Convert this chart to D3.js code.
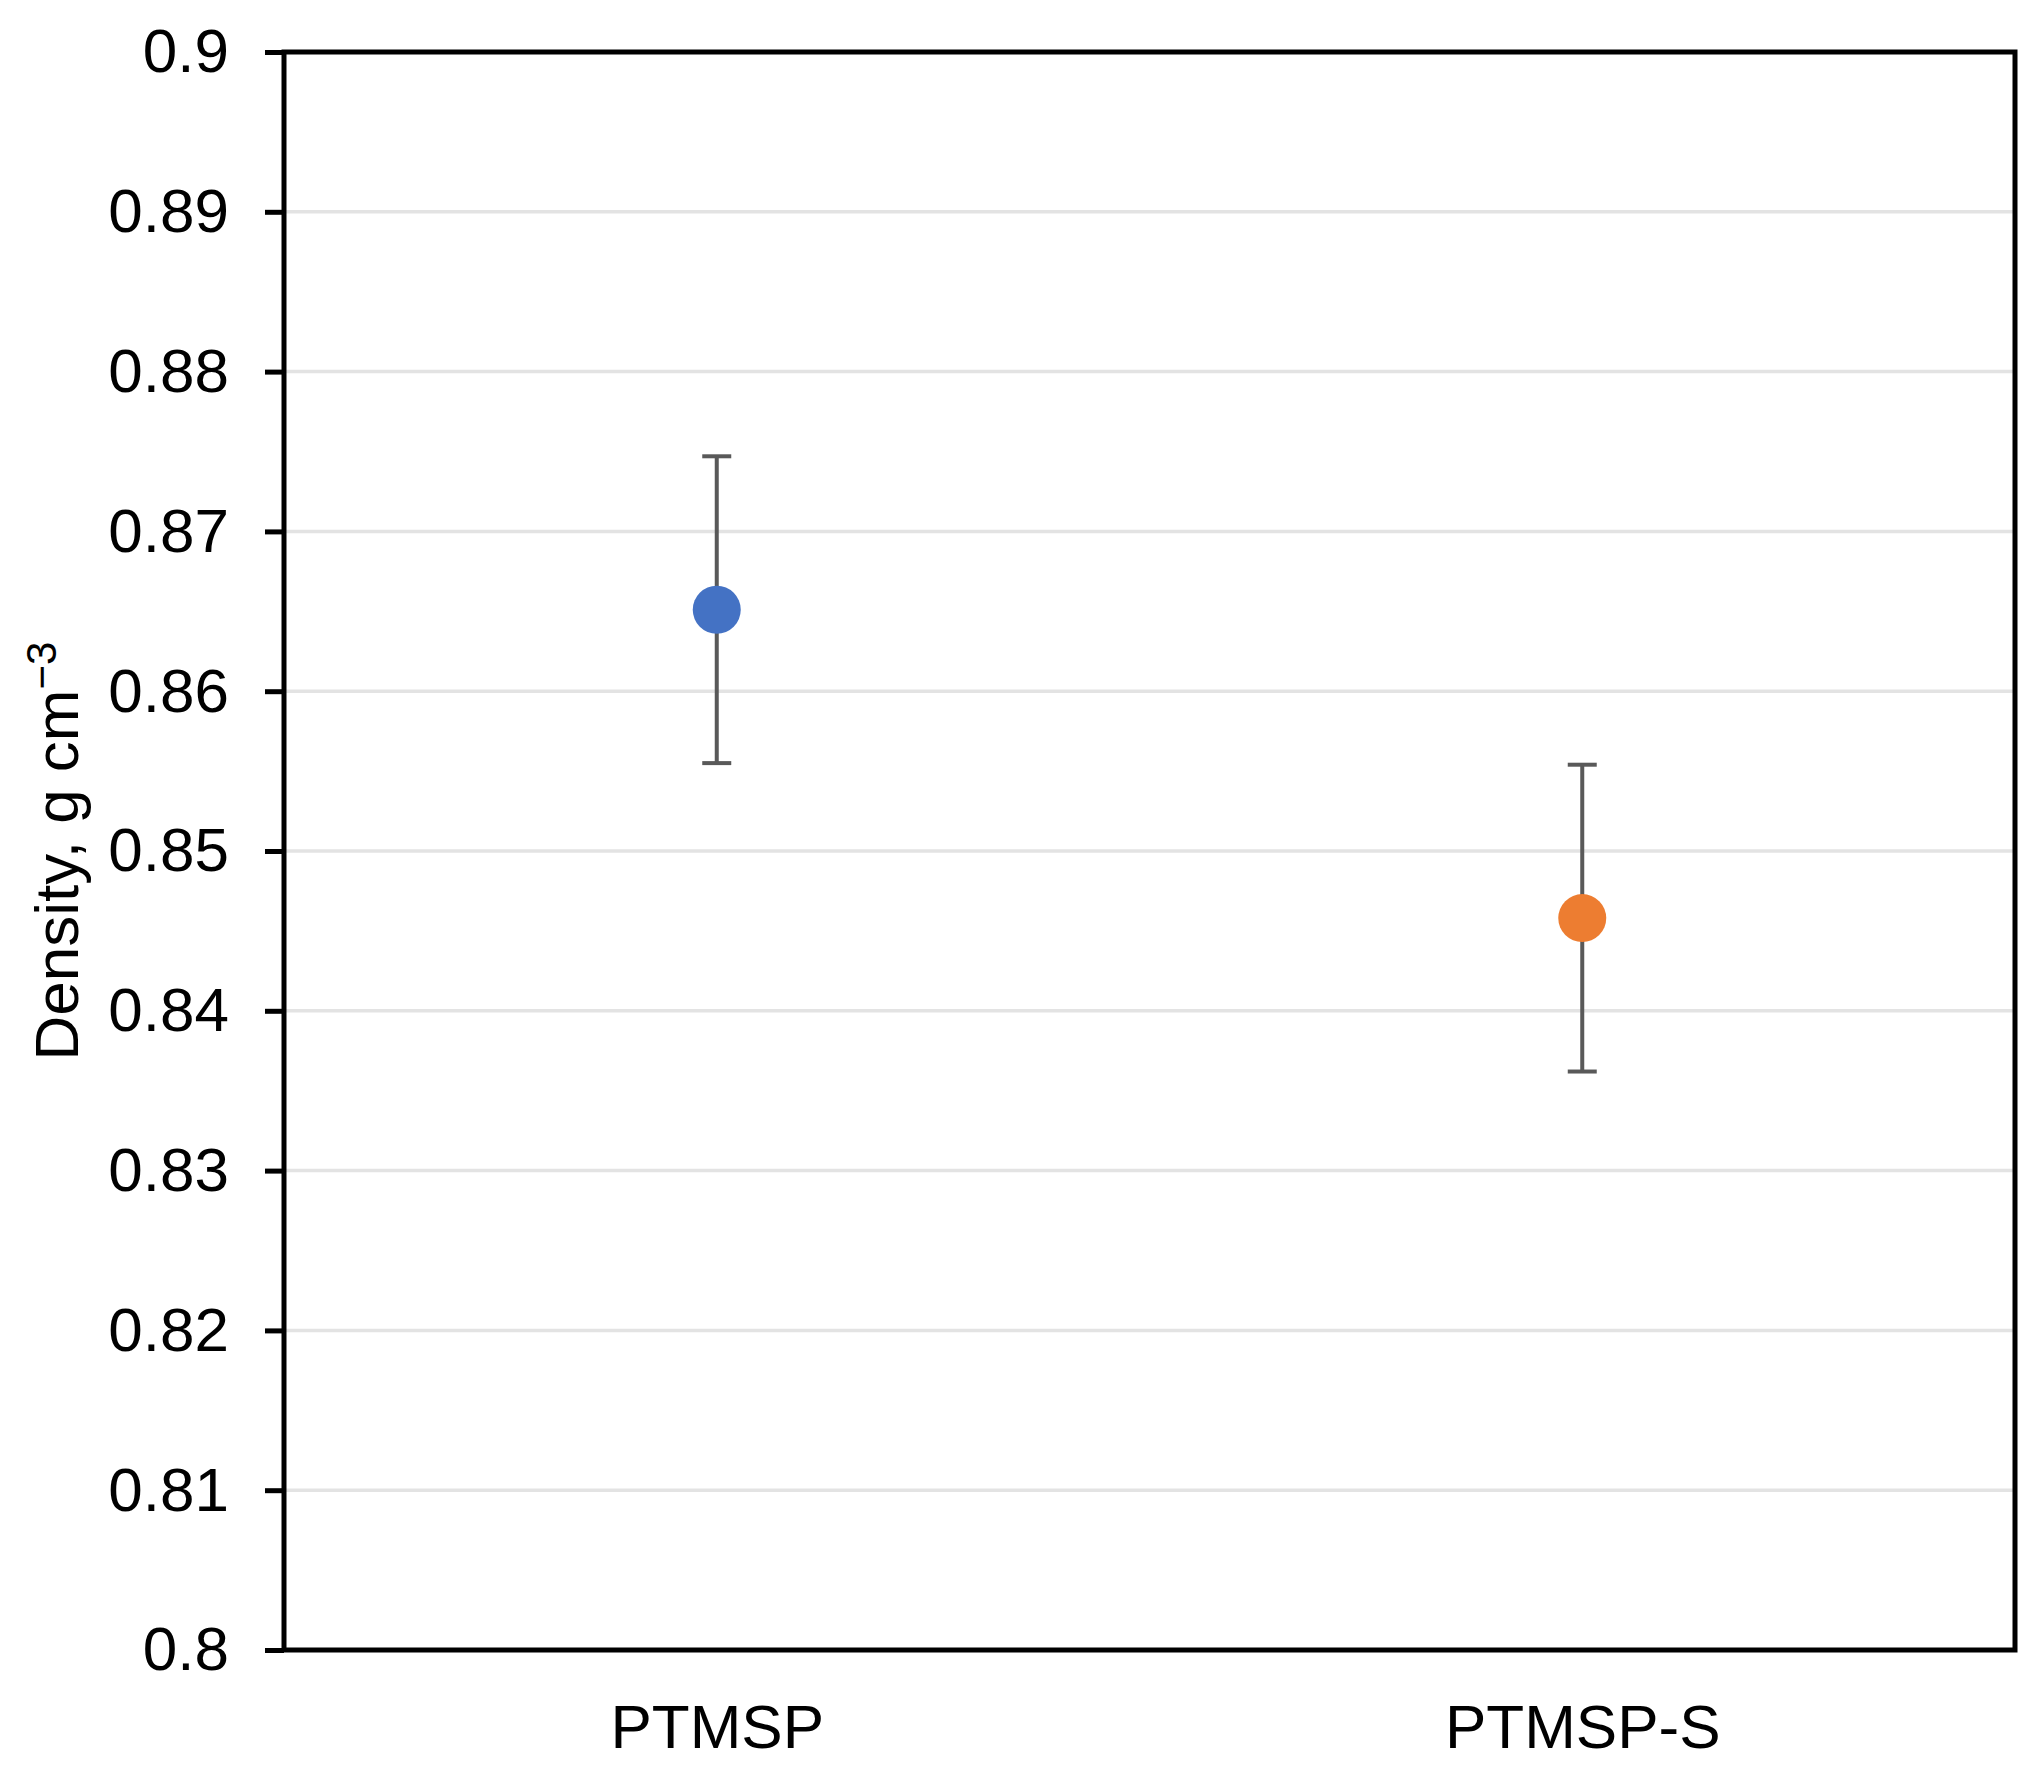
<!DOCTYPE html>
<html>
<head>
<meta charset="utf-8">
<script src="https://cdn.jsdelivr.net/npm/d3@7"></script>
<style>
  body { margin: 0; background: #fff; }
  text { font-family: "Liberation Sans", Arial, sans-serif; fill: #000; }
</style>
</head>
<body>
<div id="chart-area"></div>
<script>
// data
const categories = ["PTMSP", "PTMSP-S"]
const densities = [0.8651, 0.8458]
const errors = [0.0096, 0.0096]
const colors = ["#4472C4", "#ED7D31"]
const tickValues = [0.8, 0.81, 0.82, 0.83, 0.84, 0.85, 0.86, 0.87, 0.88, 0.89, 0.9]
const tickLabels = ["0.8", "0.81", "0.82", "0.83", "0.84", "0.85", "0.86", "0.87", "0.88", "0.89", "0.9"]

const W = 2044, H = 1774
const MARGIN = { LEFT: 284, RIGHT: 29, TOP: 52, BOTTOM: 124 }
const WIDTH = W - MARGIN.LEFT - MARGIN.RIGHT
const HEIGHT = H - MARGIN.TOP - MARGIN.BOTTOM

const svg = d3.select('#chart-area').append('svg')
  .attr('width', W)
  .attr('height', H)

const g = svg.append("g")
  .attr("transform", `translate(${MARGIN.LEFT}, ${MARGIN.TOP})`)

const x = d3.scalePoint()
  .domain(categories)
  .range([0, WIDTH])
  .padding(0.5)

const y = d3.scaleLinear()
  .domain([0.8, 0.9])
  .range([HEIGHT, 0])

// gridlines
g.append("g")
  .selectAll("line")
  .data(tickValues.slice(1, -1))
  .enter().append("line")
  .attr("x1", 0)
  .attr("x2", WIDTH)
  .attr("y1", d => y(d))
  .attr("y2", d => y(d))
  .attr("stroke", "#e3e3e3")
  .attr("stroke-width", 3.5)

// y axis
const yAxisCall = d3.axisLeft(y)
  .tickValues(tickValues)
  .tickFormat((d, i) => tickLabels[i])
  .tickSize(19)
  .tickPadding(36)
const yAxis = g.append("g")
  .attr("class", "y-axis")
  .call(yAxisCall)
yAxis.select(".domain").remove()
yAxis.selectAll(".tick line").attr("stroke", "#000").attr("stroke-width", 5)
yAxis.selectAll(".tick text")
  .attr("font-size", "62px")
  .attr("font-family", "Liberation Sans, Arial, sans-serif")
  .attr("fill", "#000")

// x axis labels only
const xAxisCall = d3.axisBottom(x).tickSize(0).tickPadding(0)
const xAxis = g.append("g")
  .attr("class", "x-axis")
  .attr("transform", `translate(0, ${HEIGHT})`)
  .call(xAxisCall)
xAxis.select(".domain").remove()
xAxis.selectAll(".tick text")
  .attr("font-size", "62px")
  .attr("font-family", "Liberation Sans, Arial, sans-serif")
  .attr("fill", "#000")
  .attr("dy", null)
  .attr("y", 98)

// plot border
g.append("rect")
  .attr("x", 0)
  .attr("y", 0)
  .attr("width", WIDTH)
  .attr("height", HEIGHT)
  .attr("fill", "none")
  .attr("stroke", "#000")
  .attr("stroke-width", 5)

// error bars
const bars = g.append("g").selectAll("g").data(categories).enter().append("g")
bars.append("line")
  .attr("x1", d => x(d)).attr("x2", d => x(d))
  .attr("y1", (d, i) => y(densities[i] + errors[i]))
  .attr("y2", (d, i) => y(densities[i] - errors[i]))
  .attr("stroke", "#595959").attr("stroke-width", 4)
bars.append("line")
  .attr("x1", d => x(d) - 14.5).attr("x2", d => x(d) + 14.5)
  .attr("y1", (d, i) => y(densities[i] + errors[i]))
  .attr("y2", (d, i) => y(densities[i] + errors[i]))
  .attr("stroke", "#595959").attr("stroke-width", 4)
bars.append("line")
  .attr("x1", d => x(d) - 14.5).attr("x2", d => x(d) + 14.5)
  .attr("y1", (d, i) => y(densities[i] - errors[i]))
  .attr("y2", (d, i) => y(densities[i] - errors[i]))
  .attr("stroke", "#595959").attr("stroke-width", 4)

// points
g.append("g").selectAll("circle").data(categories).enter().append("circle")
  .attr("cx", d => x(d))
  .attr("cy", (d, i) => y(densities[i]))
  .attr("r", 24)
  .attr("fill", (d, i) => colors[i])

// y label
const yl = svg.append("text")
  .attr("transform", `translate(78, ${MARGIN.TOP + HEIGHT / 2}) rotate(-90)`)
  .attr("text-anchor", "middle")
  .attr("font-size", "62px")
yl.append("tspan").text("Density, g cm")
yl.append("tspan").attr("font-size", "42px").attr("dy", -22).text("\u22123")
</script>
</body>
</html>
